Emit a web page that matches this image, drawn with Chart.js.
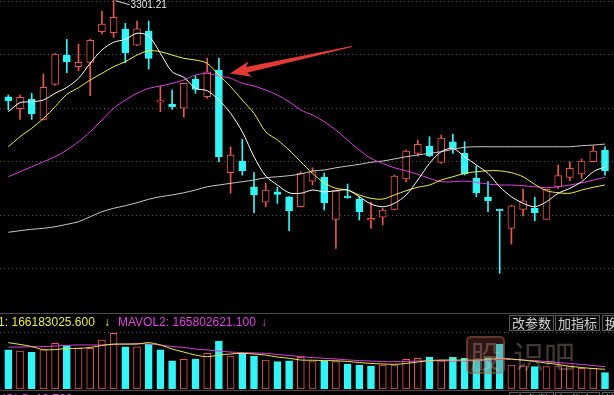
<!DOCTYPE html>
<html>
<head>
<meta charset="utf-8">
<script src="https://cdn.jsdelivr.net/npm/chart.js@4.4.1/dist/chart.umd.min.js"></script>
<style>
  body { margin: 0; background: #000; overflow: hidden; }
  #wrap { position: relative; width: 614px; height: 395px; background: #000; overflow: hidden; font-family: "Liberation Sans", Arial, sans-serif; }
  #kline { position: absolute; left: 0; top: 0; }
  #vol { position: absolute; left: 0; top: 313px; }
  .hline { position: absolute; left: 0; width: 614px; height: 1px; background: #4a4a4a; }
  .txt { position: absolute; font-size: 12px; line-height: 12px; white-space: nowrap; }
  .btn { position: absolute; height: 14px; border: 1px solid #5a5a5a; background: #0b0b0b; color: #cfcfcf; font: 13px/14px "Noto Sans CJK SC", sans-serif; padding: 0 2px; white-space: nowrap; }
  .wm { position: absolute; font: 31px/34px "Noto Sans CJK SC", sans-serif; color: rgba(235, 200, 190, 0.28); white-space: nowrap; }
  .wm span.box { display: inline-block; border: 2px solid rgba(200, 120, 100, 0.35); background: rgba(150, 70, 55, 0.3); border-radius: 5px; padding: 0 2px; margin-right: 8px; }
</style>
</head>
<body>
<div id="wrap">
  <canvas id="kline" width="614" height="313"></canvas>
  <canvas id="vol" width="614" height="82"></canvas>
  <div class="hline" style="top:313px"></div>
  <div class="hline" style="top:390px"></div>

  <span class="txt" style="left:-43px;top:316px;color:#e8e84a">MAVOL1: 166183025.600</span>
  <span class="txt" style="left:104px;top:316px;color:#e8e84a">↓</span>
  <span class="txt" style="left:118px;top:316px;color:#e040e0">MAVOL2: 165802621.100</span>
  <span class="txt" style="left:261px;top:316px;color:#e040e0">↓</span>

  <div class="btn" style="left:509px;top:315px">改参数</div>
  <div class="btn" style="left:555px;top:315px">加指标</div>
  <div class="btn" style="left:602px;top:315px">换</div>

  <span class="txt" style="left:-3px;top:393px;color:#e040e0">VOLS: 19,760 ↓</span>
  <div class="btn" style="left:509px;top:392px">改参数</div>
  <div class="btn" style="left:555px;top:392px">加指标</div>
  <div class="btn" style="left:602px;top:392px">换</div>

  <div class="wm" style="left:466px;top:336px"><span class="box">股</span>识吧</div>
</div>

<script>
// K线数据（日线，52根）
const opens = [3210.7,3199.5,3208.6,3189.6,3222.2,3249.6,3238.7,3242.8,3271.3,3270.4,
  3273.8,3258.9,3272.0,3205.7,3203.9,3199.9,3226.9,3210.7,3235.6,3139.8,
  3150.7,3126.7,3112.2,3122.0,3117.4,3108.0,3132.0,3135.5,3096.3,3118.0,
  3115.2,3095.6,3098.2,3105.6,3133.9,3157.9,3164.7,3149.5,3168.7,3157.9,
  3134.5,3116.8,3105.6,3087.9,3105.6,3106.6,3096.3,3126.7,3135.5,3138.6,
  3150.0,3160.9];
const closes = [3207.0,3210.1,3194.6,3219.5,3250.5,3243.3,3242.8,3263.3,3278.5,3284.8,
  3251.7,3274.1,3246.5,3207.0,3201.3,3223.2,3217.6,3234.0,3154.7,3156.3,
  3141.6,3119.0,3123.6,3119.6,3104.3,3139.2,3140.7,3111.8,3123.0,3116.4,
  3103.4,3097.2,3105.0,3136.7,3160.0,3166.3,3155.6,3172.1,3162.5,3138.6,
  3121.1,3113.6,3104.3,3109.0,3113.6,3102.5,3124.3,3137.0,3143.9,3150.7,
  3160.0,3141.6];
const highs = [3212.3,3212.3,3213.9,3231.9,3251.0,3264.2,3259.8,3264.2,3290.7,3301.21,
  3279.2,3281.3,3281.3,3220.7,3216.9,3223.5,3230.0,3246.5,3246.5,3164.0,
  3170.9,3139.8,3129.9,3126.2,3117.6,3140.7,3144.4,3139.2,3123.2,3129.2,
  3117.4,3112.2,3106.6,3137.6,3160.9,3170.3,3173.4,3174.9,3175.9,3168.7,
  3146.0,3131.4,3105.8,3109.2,3124.3,3116.8,3124.5,3147.0,3150.0,3152.6,
  3165.0,3164.0];
const lows = [3198.3,3189.6,3189.6,3189.0,3221.5,3233.1,3234.9,3211.6,3269.2,3266.1,
  3242.4,3258.3,3236.5,3196.7,3198.9,3191.5,3213.9,3209.2,3150.0,3120.6,
  3137.6,3102.5,3108.0,3111.2,3085.7,3107.8,3128.3,3105.0,3069.2,3115.9,
  3095.6,3087.9,3091.0,3105.3,3131.4,3155.4,3154.7,3148.5,3157.9,3137.6,
  3117.4,3103.4,3045.9,3073.2,3099.4,3095.0,3096.1,3125.2,3132.3,3134.5,
  3149.8,3137.6];

// 均线
const ma5 = [3196.7,3205.1,3206.0,3207.6,3213.9,3219.4,3227.9,3241.9,3254.3,3261.5,
  3264.2,3269.9,3267.3,3251.2,3234.0,3228.8,3218.5,3216.3,3207.6,3195.2,
  3178.0,3154.7,3136.7,3128.3,3121.1,3120.6,3123.6,3122.0,3123.0,3123.6,
  3117.4,3110.6,3108.0,3111.2,3119.0,3133.0,3148.5,3159.4,3162.5,3154.7,
  3147.0,3139.2,3126.7,3117.4,3111.2,3108.0,3112.7,3120.6,3125.2,3131.4,
  3140.7,3145.4];
const ma10 = [3164.0,3173.4,3181.2,3190.5,3201.3,3212.9,3219.1,3226.3,3232.5,3238.7,
  3243.3,3249.6,3253.6,3252.7,3249.6,3246.5,3244.9,3241.9,3230.9,3220.0,
  3207.6,3195.2,3178.0,3170.3,3160.9,3150.0,3139.2,3130.4,3125.2,3123.6,
  3119.0,3115.9,3115.2,3119.0,3123.0,3126.2,3128.3,3133.0,3136.0,3139.2,
  3140.7,3141.6,3141.6,3139.8,3136.0,3128.9,3123.0,3121.1,3120.6,3123.6,
  3126.2,3128.3];
const ma20 = [3136.0,3140.7,3145.4,3150.0,3154.7,3160.9,3168.7,3178.0,3188.9,3199.9,
  3207.6,3213.9,3218.5,3220.7,3223.2,3226.3,3230.9,3232.5,3230.0,3227.9,
  3223.2,3220.7,3216.9,3212.3,3206.0,3198.3,3193.6,3187.4,3179.6,3170.3,
  3160.9,3153.2,3148.5,3144.4,3141.6,3138.3,3134.5,3131.4,3131.4,3132.0,
  3130.8,3129.2,3128.3,3128.3,3127.6,3126.7,3125.8,3126.7,3128.3,3130.4,
  3132.9,3135.5];
const ma60 = [3084.2,3085.7,3087.0,3087.9,3089.4,3091.6,3094.1,3098.7,3103.4,3106.6,
  3109.0,3111.8,3115.0,3117.4,3119.0,3121.1,3123.6,3126.7,3128.3,3129.9,
  3131.4,3133.0,3135.1,3136.0,3137.0,3138.6,3141.4,3142.3,3144.4,3146.0,
  3147.6,3149.5,3150.7,3152.6,3154.7,3156.3,3157.9,3159.4,3161.6,3163.5,
  3164.0,3164.0,3164.0,3164.0,3164.0,3164.0,3164.0,3164.0,3164.0,3165.0,
  3165.6,3166.5];

// 成交量（百万）及均量
const volumes = [220,214,207,220,257,244,229,229,276,314,
  238,238,252,220,158,167,169,201,270,186,
  201,186,163,154,158,178,154,159,154,141,
  135,129,135,135,167,173,180,159,178,173,
  163,175,253,135,131,126,126,131,126,117,
  117,92];
const volUp = [0,1,0,1,1,0,1,1,1,1, 0,1,0,0,0,1,0,1,0,1, 0,0,1,0,0,1,1,0,1,0,
  0,0,1,1,1,1,0,1,0,0, 0,0,0,1,1,0,1,1,1,1, 1,0];
const mavol1 = [261,251,239,222,222,228,229,234,245,253,
  253,253,261,248,225,208,191,182,191,197,
  201,197,191,180,173,163,162,160,159,155,
  149,144,141,139,144,152,160,163,163,163,
  163,166,173,169,163,155,146,138,128,121,
  115,111];
const mavol2 = [236,236,238,239,242,246,248,248,248,251,
  253,256,253,248,239,234,225,220,214,208,
  205,203,201,194,189,182,177,173,169,164,
  160,157,154,154,155,158,159,159,158,158,
  160,163,167,166,163,160,155,149,144,138,
  132,126];

const peakIndex = 9;   // 3301.21
const arrowIndex = 18; // 红箭头指向的大阴线

const RED = '#e8564e';
const CYAN = '#33f5f5';
const GRID = '#555';

const up = opens.map((o, i) => closes[i] >= o);
const xy = arr => arr.map((v, i) => ({ x: i, y: v }));

const xScale = { type: 'linear', min: -0.71, max: 51.77, offset: false, display: false };

// 标注：最高价和红色箭头
const marks = {
  id: 'marks',
  afterDatasetsDraw(chart) {
    const { ctx, scales: { x, y } } = chart;
    ctx.save();
    const hx = x.getPixelForValue(peakIndex);
    const hy = y.getPixelForValue(highs[peakIndex]);
    ctx.strokeStyle = '#d8d8d8';
    ctx.lineWidth = 1;
    ctx.beginPath();
    ctx.moveTo(hx + 2, hy + 1);
    ctx.lineTo(hx + 16, hy + 5);
    ctx.stroke();
    ctx.fillStyle = '#e8e8e8';
    ctx.font = '10px "Liberation Sans", Arial';
    ctx.textBaseline = 'top';
    ctx.fillText(highs[peakIndex].toFixed(2), hx + 17, 0);

    const tx = x.getPixelForValue(arrowIndex) + 11;
    const ty = y.getPixelForValue(opens[arrowIndex]) + 3.5;
    const ex = tx + 122, ey = ty - 27;
    const len = Math.hypot(ex - tx, ey - ty);
    const ux = (tx - ex) / len, uy = (ty - ey) / len;
    const nx = -uy, ny = ux;
    const p = (a, b) => [tx - ux * a + nx * b, ty - uy * a + ny * b];
    const pts = [[tx, ty], p(21, 8), p(17, 3), [ex + nx * 0.6, ey + ny * 0.6],
      [ex - nx * 0.6, ey - ny * 0.6], p(17, -3), p(21, -8)];
    ctx.fillStyle = '#e33a36';
    ctx.beginPath();
    pts.forEach((pt, k) => k ? ctx.lineTo(pt[0], pt[1]) : ctx.moveTo(pt[0], pt[1]));
    ctx.closePath();
    ctx.fill();
    ctx.restore();
  }
};

const lineDs = (data, color) => ({
  type: 'line', data: xy(data), borderColor: color, borderWidth: 1,
  pointRadius: 0, tension: 0.3, order: 0
});

new Chart(document.getElementById('kline'), {
  type: 'bar',
  data: {
    datasets: [
      {
        data: lows.map((l, i) => ({ x: i, y: [l, highs[i]] })),
        backgroundColor: up.map(u => u ? RED : CYAN),
        barThickness: 1, grouped: false, clip: false, order: 2
      },
      {
        data: opens.map((o, i) => ({ x: i, y: [o, closes[i]] })),
        backgroundColor: up.map(u => u ? '#000' : CYAN),
        borderColor: up.map(u => u ? RED : CYAN),
        borderWidth: 1, borderSkipped: false,
        barThickness: 7, grouped: false, order: 1
      },
      lineDs(ma5, '#ffffff'),
      lineDs(ma10, '#f0f040'),
      lineDs(ma20, '#dd3fdd'),
      lineDs(ma60, '#c8c8c8')
    ]
  },
  options: {
    responsive: false,
    animation: false,
    layout: { padding: { top: 1, bottom: 0, left: 0, right: 0 } },
    plugins: { legend: { display: false }, tooltip: { enabled: false } },
    scales: {
      x: xScale,
      y: {
        min: 3008.9, max: 3300,
        ticks: { display: false, stepSize: 50, includeBounds: false },
        grid: { color: GRID, drawTicks: false },
        border: { display: false, dash: [1, 3] },
        afterFit: s => { s.width = 0; }
      }
    }
  },
  plugins: [marks]
});

new Chart(document.getElementById('vol'), {
  type: 'bar',
  data: {
    datasets: [
      {
        data: xy(volumes),
        backgroundColor: volUp.map(u => u ? '#000' : CYAN),
        borderColor: volUp.map(u => u ? RED : CYAN),
        borderWidth: 1, borderSkipped: false,
        barThickness: 7, grouped: false, order: 1
      },
      lineDs(mavol1, '#e8e84a'),
      lineDs(mavol2, '#dd3fdd')
    ]
  },
  options: {
    responsive: false,
    animation: false,
    layout: { padding: { top: 19, bottom: 6, left: 0, right: 0 } },
    plugins: { legend: { display: false }, tooltip: { enabled: false } },
    scales: {
      x: xScale,
      y: {
        min: 0, max: 321,
        afterBuildTicks: s => { s.ticks = [{ value: 321 }]; },
        ticks: { display: false },
        grid: { color: GRID, drawTicks: false },
        border: { display: false, dash: [1, 3] },
        afterFit: s => { s.width = 0; }
      }
    }
  }
});
</script>
</body>
</html>
